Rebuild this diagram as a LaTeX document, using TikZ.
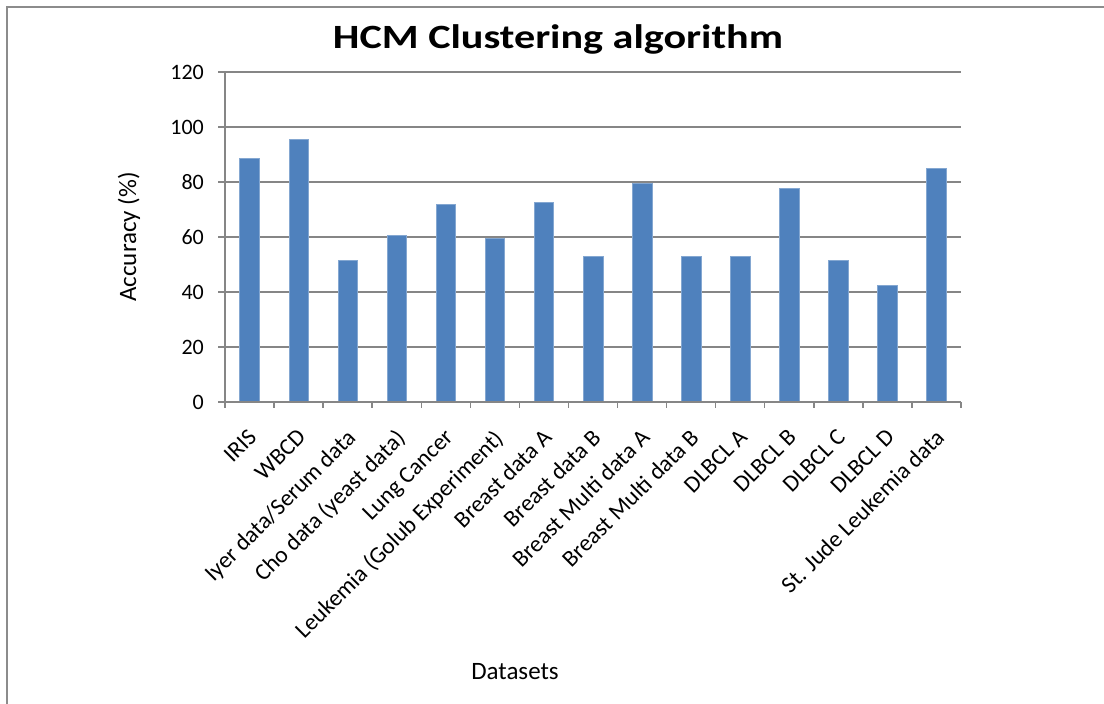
\documentclass[tikz,border=0pt]{standalone}
\usepackage{fontspec}
\setmainfont{Carlito}
\definecolor{barblue}{HTML}{4F81BD}
\definecolor{gridgray}{HTML}{868686}
\definecolor{framegray}{HTML}{8C8C8C}
\begin{document}
\begin{tikzpicture}[x=1pt,y=-1pt,
  gridline/.style={draw=gridgray,line width=1.5pt},
  axisline/.style={draw=gridgray,line width=1.5pt},
  bar/.style={fill=barblue,draw=barblue!70!white,line width=0.5pt},
  ticklab/.style={font=\fontsize{22}{24}\selectfont,inner sep=0pt},
  catlab/.style={font=\fontsize{23.5}{26}\selectfont,inner sep=0pt,rotate=45,anchor=north east},
  axtitle/.style={font=\fontsize{25}{28}\selectfont,inner sep=0pt},
  titlestyle/.style={font=\fontsize{34}{38}\bfseries\selectfont,inner sep=0pt}]
\useasboundingbox (0,0) rectangle (1104,704);
\fill[white] (0,0) rectangle (1104,704);
% frame
\draw[framegray,line width=2pt] (6.5,704) -- (6.5,7) -- (1104,7);
% title
\node[titlestyle,anchor=base] (title) at (558,48.3) {\scalebox{1.24}[1]{HCM Clustering algorithm}};
% gridlines and y labels
\foreach \v in {0,20,...,120}{
  \pgfmathsetmacro{\yy}{402-2.75*\v}
  \draw[gridline] (218,\yy) -- (961,\yy);
  \node[ticklab,anchor=east] (y\v) at (204,\yy) {\v};
}
% bars
\def\cw{49.0667}
\foreach \val [count=\i from 0] in {88.6,95.6,51.6,60.7,72,59.7,72.5,53,79.4,53.1,53.1,77.8,51.6,42.5,85}{
  \pgfmathsetmacro{\cx}{225+(\i+0.5)*\cw}
  \pgfmathsetmacro{\top}{402-2.75*\val}
  \path[bar] (\cx-9.8,402) rectangle (\cx+9.8,\top);
}
% axes
\draw[axisline] (225,72) -- (225,402);
\draw[axisline] (218,402) -- (961,402);
\foreach \i in {0,...,15}{
  \pgfmathsetmacro{\tx}{225+\i*\cw}
  \draw[axisline] (\tx,402) -- (\tx,408);
}
% category labels
\foreach \lab [count=\i from 0] in {IRIS,WBCD,Iyer data/Serum data,Cho data (yeast data),Lung Cancer,Leukemia (Golub Experiment),Breast data A,Breast data B,Breast Multi data A,Breast Multi data B,DLBCL A,DLBCL B,DLBCL C,DLBCL D,St. Jude Leukemia data}{
  \pgfmathsetmacro{\cx}{225+(\i+0.5)*\cw-2.5}
  \node[catlab] (c\i) at (\cx,427.5) {\lab};
}
% axis titles
\node[axtitle,rotate=90] (ytitle) at (129,237) {Accuracy (\%)};
\node[axtitle] (xtitle) at (515,672) {Datasets};
\end{tikzpicture}
\end{document}
